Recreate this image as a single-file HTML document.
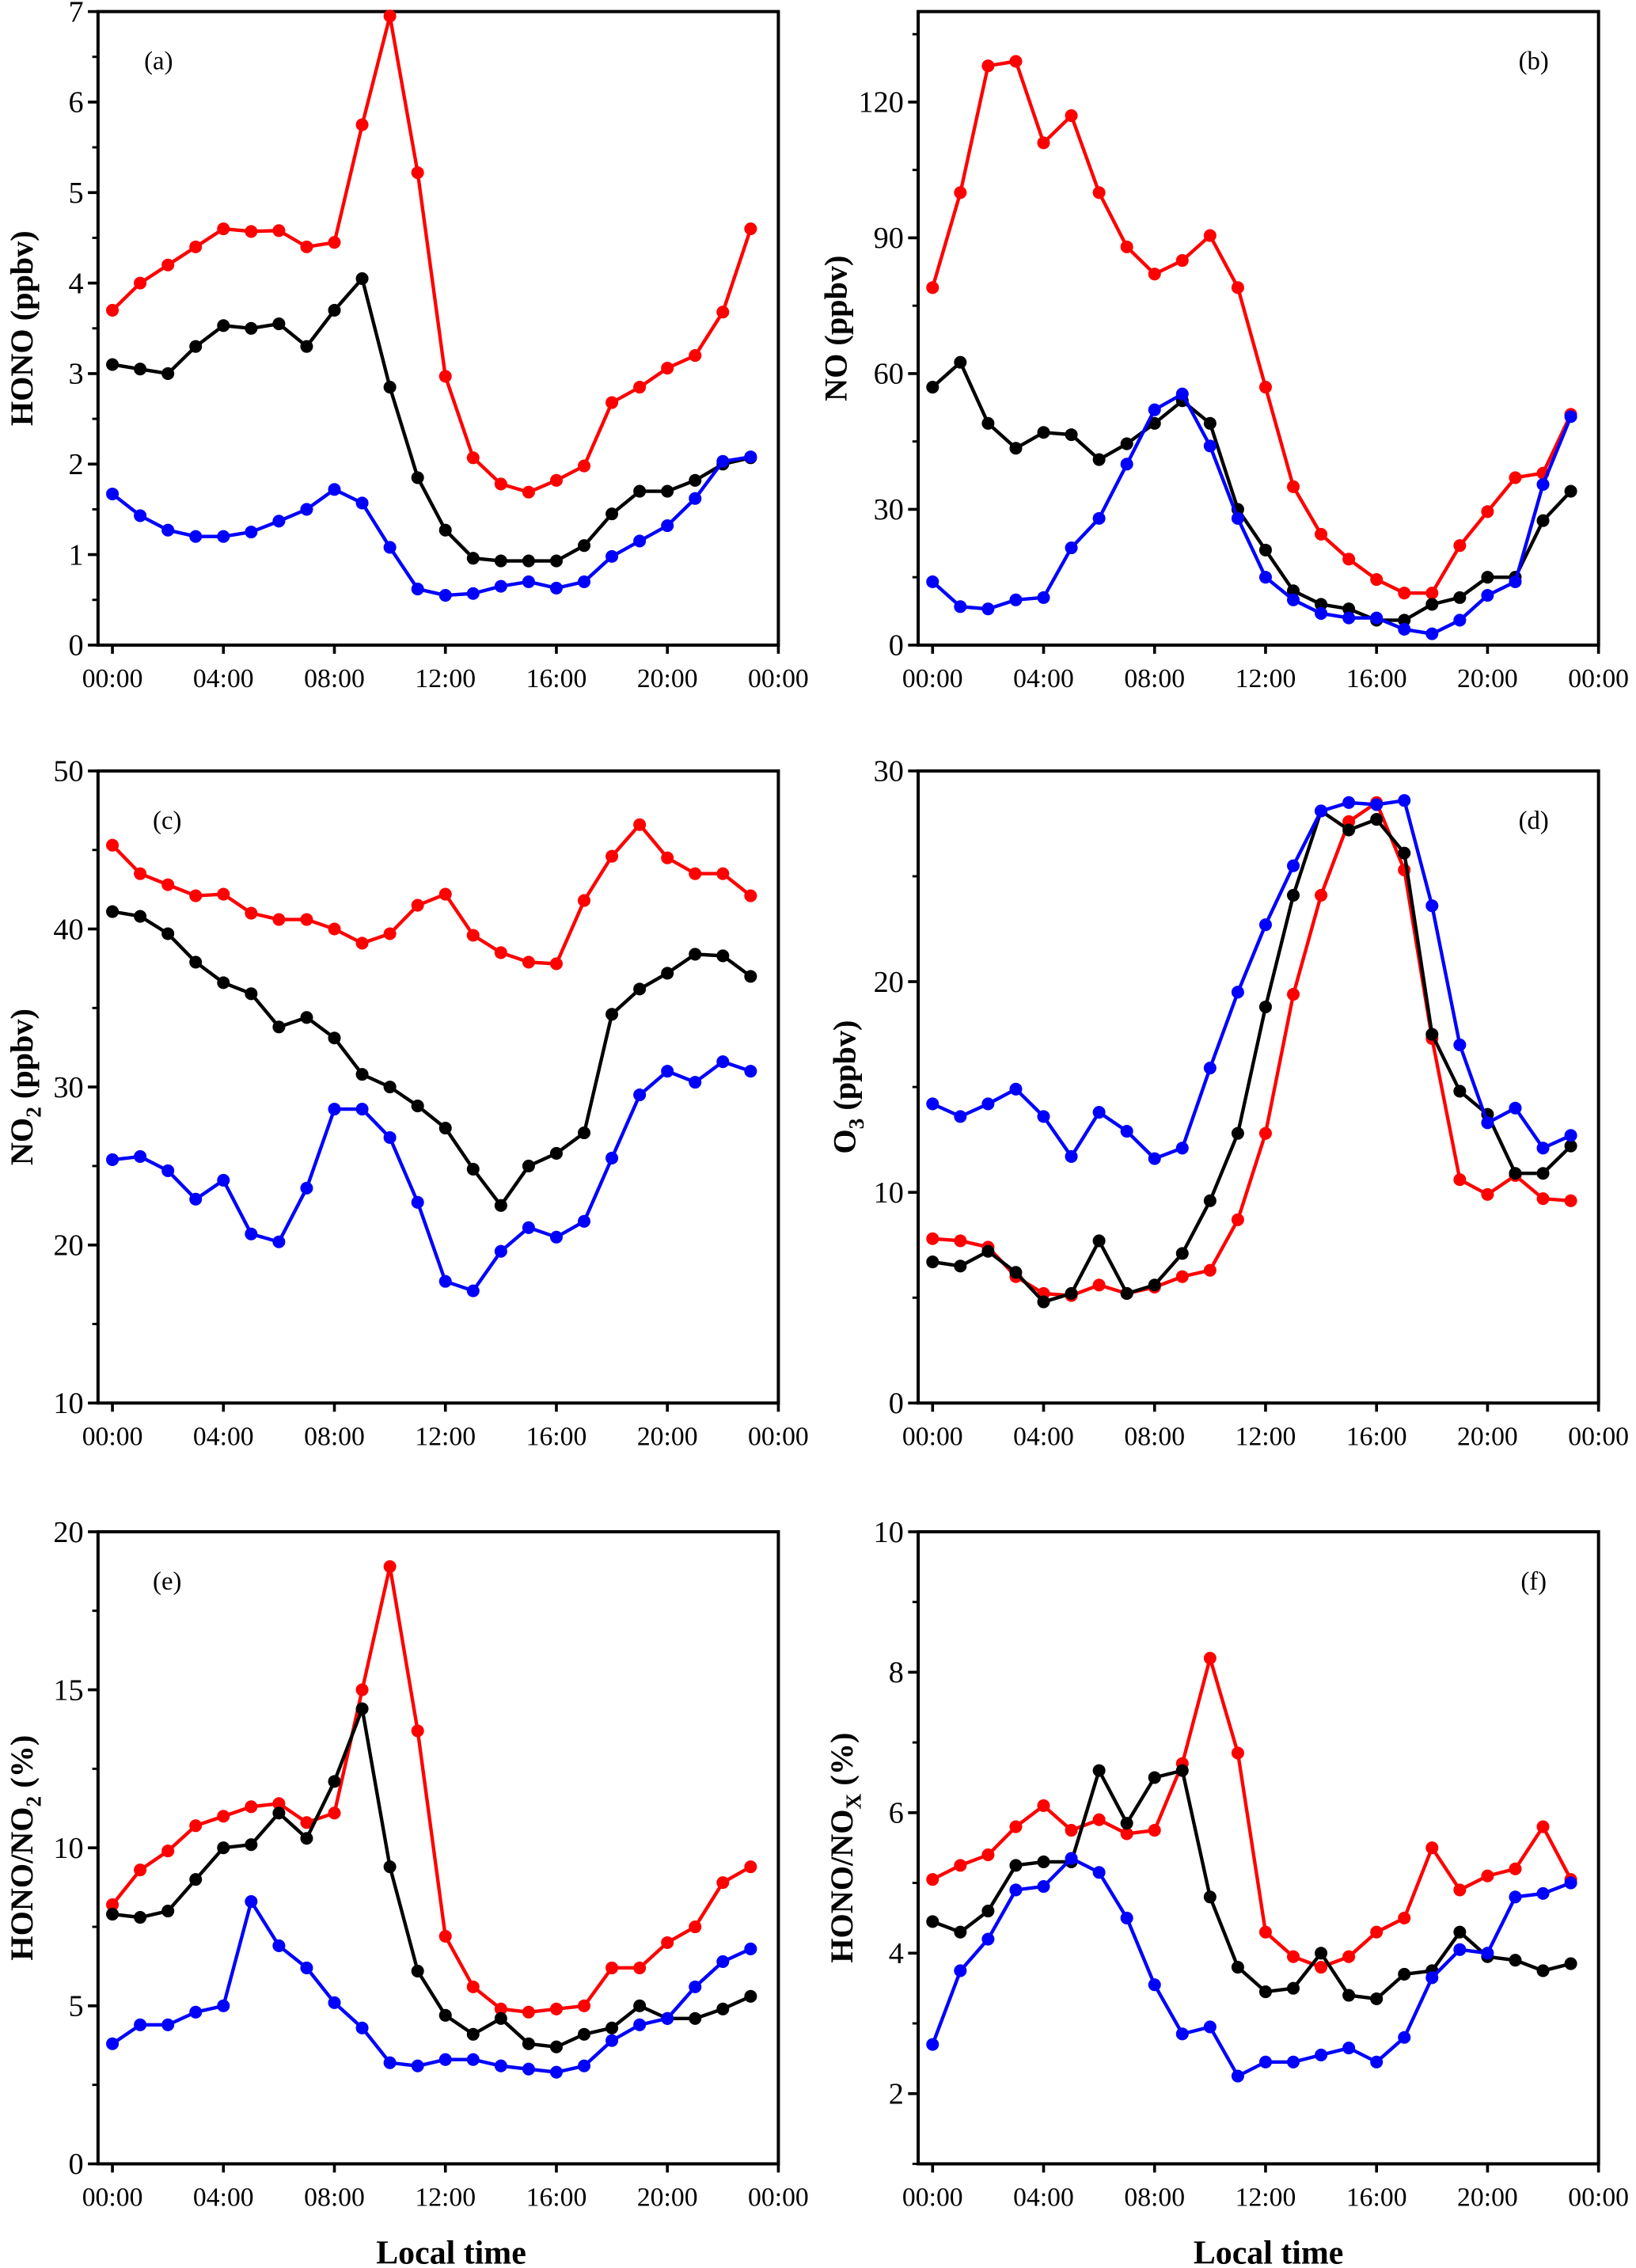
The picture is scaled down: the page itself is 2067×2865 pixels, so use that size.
<!DOCTYPE html>
<html><head><meta charset="utf-8"><style>
html,body{margin:0;padding:0;background:#fff;}
svg{display:block;font-family:"Liberation Serif",serif;}
</style></head><body>
<svg id="fig" width="2067" height="2865" viewBox="0 0 1135 1568" preserveAspectRatio="none" xmlns="http://www.w3.org/2000/svg"></svg>
<script>
const hours=[0,1,2,3,4,5,6,7,8,9,10,11,12,13,14,15,16,17,18,19,20,21,22,23];
const xTickLabels=["00:00","04:00","08:00","12:00","16:00","20:00","00:00"];
const hono_red=[3.7,4.0,4.2,4.4,4.6,4.57,4.58,4.4,4.45,5.75,6.95,5.22,2.97,2.07,1.78,1.69,1.82,1.98,2.68,2.85,3.06,3.2,3.68,4.6];
const hono_black=[3.1,3.05,3.0,3.3,3.53,3.5,3.55,3.3,3.7,4.05,2.85,1.85,1.27,0.96,0.93,0.93,0.93,1.1,1.45,1.7,1.7,1.82,2.0,2.07];
const hono_blue=[1.67,1.43,1.27,1.2,1.2,1.25,1.37,1.5,1.72,1.57,1.08,0.62,0.55,0.57,0.65,0.7,0.63,0.7,0.98,1.15,1.32,1.62,2.03,2.08];
const no_red=[79,100,128,129,111,117,100,88,82,85,90.5,79,57,35,24.5,19,14.5,11.5,11.5,22,29.5,37,38,51];
const no_black=[57,62.5,49,43.5,47,46.5,41,44.5,49,54,49,30,21,12,9,8,5.5,5.5,9,10.5,15,15,27.5,34];
const no_blue=[14,8.5,8,10,10.5,21.5,28,40,52,55.5,44,28,15,10,7,6,6,3.5,2.5,5.5,11,14,35.5,50.5];
const no2_red=[45.3,43.5,42.8,42.1,42.2,41.0,40.6,40.6,40.0,39.1,39.7,41.5,42.2,39.6,38.5,37.9,37.8,41.8,44.6,46.6,44.5,43.5,43.5,42.1];
const no2_black=[41.1,40.8,39.7,37.9,36.6,35.9,33.8,34.4,33.1,30.8,30.0,28.8,27.4,24.8,22.5,25.0,25.8,27.1,34.6,36.2,37.2,38.4,38.3,37.0];
const no2_blue=[25.4,25.6,24.7,22.9,24.1,20.7,20.2,23.6,28.6,28.6,26.8,22.7,17.7,17.1,19.6,21.1,20.5,21.5,25.5,29.5,31.0,30.3,31.6,31.0];
const o3_red=[7.8,7.7,7.4,6.0,5.2,5.1,5.6,5.2,5.5,6.0,6.3,8.7,12.8,19.4,24.1,27.6,28.5,25.3,17.3,10.6,9.9,10.8,9.7,9.6];
const o3_black=[6.7,6.5,7.2,6.2,4.8,5.2,7.7,5.2,5.6,7.1,9.6,12.8,18.8,24.1,28.1,27.2,27.7,26.1,17.5,14.8,13.7,10.9,10.9,12.2];
const o3_blue=[14.2,13.6,14.2,14.9,13.6,11.7,13.8,12.9,11.6,12.1,15.9,19.5,22.7,25.5,28.1,28.5,28.4,28.6,23.6,17.0,13.3,14.0,12.1,12.7];
const r2_red=[8.2,9.3,9.9,10.7,11.0,11.3,11.4,10.8,11.1,15.0,18.9,13.7,7.2,5.6,4.9,4.8,4.9,5.0,6.2,6.2,7.0,7.5,8.9,9.4];
const r2_black=[7.9,7.8,8.0,9.0,10.0,10.1,11.1,10.3,12.1,14.4,9.4,6.1,4.7,4.1,4.6,3.8,3.7,4.1,4.3,5.0,4.6,4.6,4.9,5.3];
const r2_blue=[3.8,4.4,4.4,4.8,5.0,8.3,6.9,6.2,5.1,4.3,3.2,3.1,3.3,3.3,3.1,3.0,2.9,3.1,3.9,4.4,4.6,5.6,6.4,6.8];
const rx_red=[5.05,5.25,5.4,5.8,6.1,5.75,5.9,5.7,5.75,6.7,8.2,6.85,4.3,3.95,3.8,3.95,4.3,4.5,5.5,4.9,5.1,5.2,5.8,5.05];
const rx_black=[4.45,4.3,4.6,5.25,5.3,5.3,6.6,5.85,6.5,6.6,4.8,3.8,3.45,3.5,4.0,3.4,3.35,3.7,3.75,4.3,3.95,3.9,3.75,3.85];
const rx_blue=[2.7,3.75,4.2,4.9,4.95,5.35,5.15,4.5,3.55,2.85,2.95,2.25,2.45,2.45,2.55,2.65,2.45,2.8,3.65,4.05,4.0,4.8,4.85,5.0];
const yt_a=[0,1,2,3,4,5,6,7];
const yt_b=[0,30,60,90,120];
const yt_c=[10,20,30,40,50];
const yt_d=[0,10,20,30];
const yt_e=[0,5,10,15,20];
const yt_f=[2,4,6,8,10];

const NS="http://www.w3.org/2000/svg";
const svg=document.getElementById('fig');
function mk(tag,attrs,parent){const e=document.createElementNS(NS,tag);for(const k in attrs)e.setAttribute(k,attrs[k]);(parent||svg).appendChild(e);return e;}

const panels=[
 {id:'a',x0:78,fl:68,top:8,bot:446,ymin:0,ymax:7,ticks:yt_a,minor:0.5,title:'HONO (ppbv)',tx:15,lab:'(a)',lx:110,series:[hono_red,hono_black,hono_blue]},
 {id:'b',x0:647,fl:637,top:8,bot:446,ymin:0,ymax:140,ticks:yt_b,minor:15,title:'NO (ppbv)',tx:580,lab:'(b)',lx:1064,series:[no_red,no_black,no_blue]},
 {id:'c',x0:78,fl:68,top:533,bot:970,ymin:10,ymax:50,ticks:yt_c,minor:5,title:'NO<tspan baseline-shift="sub" font-size="15">2</tspan> (ppbv)',tx:15,lab:'(c)',lx:116,series:[no2_red,no2_black,no2_blue]},
 {id:'d',x0:647,fl:637,top:533,bot:970,ymin:0,ymax:30,ticks:yt_d,minor:5,title:'O<tspan baseline-shift="sub" font-size="15">3</tspan> (ppbv)',tx:586,lab:'(d)',lx:1064,series:[o3_red,o3_black,o3_blue]},
 {id:'e',x0:78,fl:68,top:1059,bot:1496,ymin:0,ymax:20,ticks:yt_e,minor:2.5,title:'HONO/NO<tspan baseline-shift="sub" font-size="15">2</tspan> (%)',tx:15,lab:'(e)',lx:116,series:[r2_red,r2_black,r2_blue]},
 {id:'f',x0:647,fl:637,top:1059,bot:1496,ymin:1,ymax:10,ticks:yt_f,minor:1,title:'HONO/NO<tspan baseline-shift="sub" font-size="15">X</tspan> (%)',tx:584,lab:'(f)',lx:1064,series:[rx_red,rx_black,rx_blue]}
];
const colors=['#ff0000','#000000','#0000ff'];
const names=['red','black','blue'];

panels.forEach(p=>{
 const g=mk('g',{});
 
 
 const xs=h=>p.x0+h*(462/24);
 const ys=v=>p.bot-(v-p.ymin)/(p.ymax-p.ymin)*(p.bot-p.top);
 const right=xs(24);
 const fr=mk('rect',{x:p.fl,y:p.top,width:right-p.fl,height:p.bot-p.top,fill:'none',stroke:'#000','stroke-width':2.2},g);
 
 
 for(let i=0;i<xTickLabels.length;i++){
  const x=xs(i*4);
  mk('line',{x1:x,y1:p.bot,x2:x,y2:p.bot+6,stroke:'#000','stroke-width':2},g);
  const t=mk('text',{x:x,y:p.bot+29,'text-anchor':'middle','font-size':18.5},g);
  t.textContent=xTickLabels[i];
  
  
 }
 for(let v=p.ymin;v<=p.ymax+1e-9;v+=p.minor){
  mk('line',{x1:p.fl,y1:ys(v),x2:p.fl-4,y2:ys(v),stroke:'#000','stroke-width':1.6},g);
 }
 p.ticks.forEach(v=>{
  mk('line',{x1:p.fl,y1:ys(v),x2:p.fl-7,y2:ys(v),stroke:'#000','stroke-width':2},g);
  const t=mk('text',{x:p.fl-10,y:ys(v)+7,'text-anchor':'end','font-size':21},g);
  t.textContent=v;
  
  
 });
 const cy=(p.top+p.bot)/2;
 const tt=mk('text',{x:p.tx,y:cy,transform:`rotate(-90 ${p.tx} ${cy})`,'text-anchor':'middle','dominant-baseline':'central','font-size':22,'font-weight':'bold'},g);
 tt.innerHTML=p.title;
 
 
 const lb=mk('text',{x:p.lx,y:p.top+40,'text-anchor':'middle','font-size':18},g);
 lb.textContent=p.lab;
 
 
 p.series.forEach((s,si)=>{
  const pts=s.map((v,i)=>xs(hours[i]).toFixed(1)+','+ys(v).toFixed(1)).join(' ');
  const pl=mk('polyline',{points:pts,fill:'none',stroke:colors[si],'stroke-width':2.4},g);
  
  
  s.forEach((v,i)=>{
   const c=mk('circle',{cx:xs(hours[i]),cy:ys(v),r:4.4,fill:colors[si]},g);
   
   
  });
 });
});
[[313,'x-axis-title-left'],[880,'x-axis-title-right']].forEach(a=>{
 const t=mk('text',{x:a[0],y:1565,'text-anchor':'middle','font-size':23,'font-weight':'bold'});
 t.textContent='Local time';
 
 
});
</script>
</body></html>
